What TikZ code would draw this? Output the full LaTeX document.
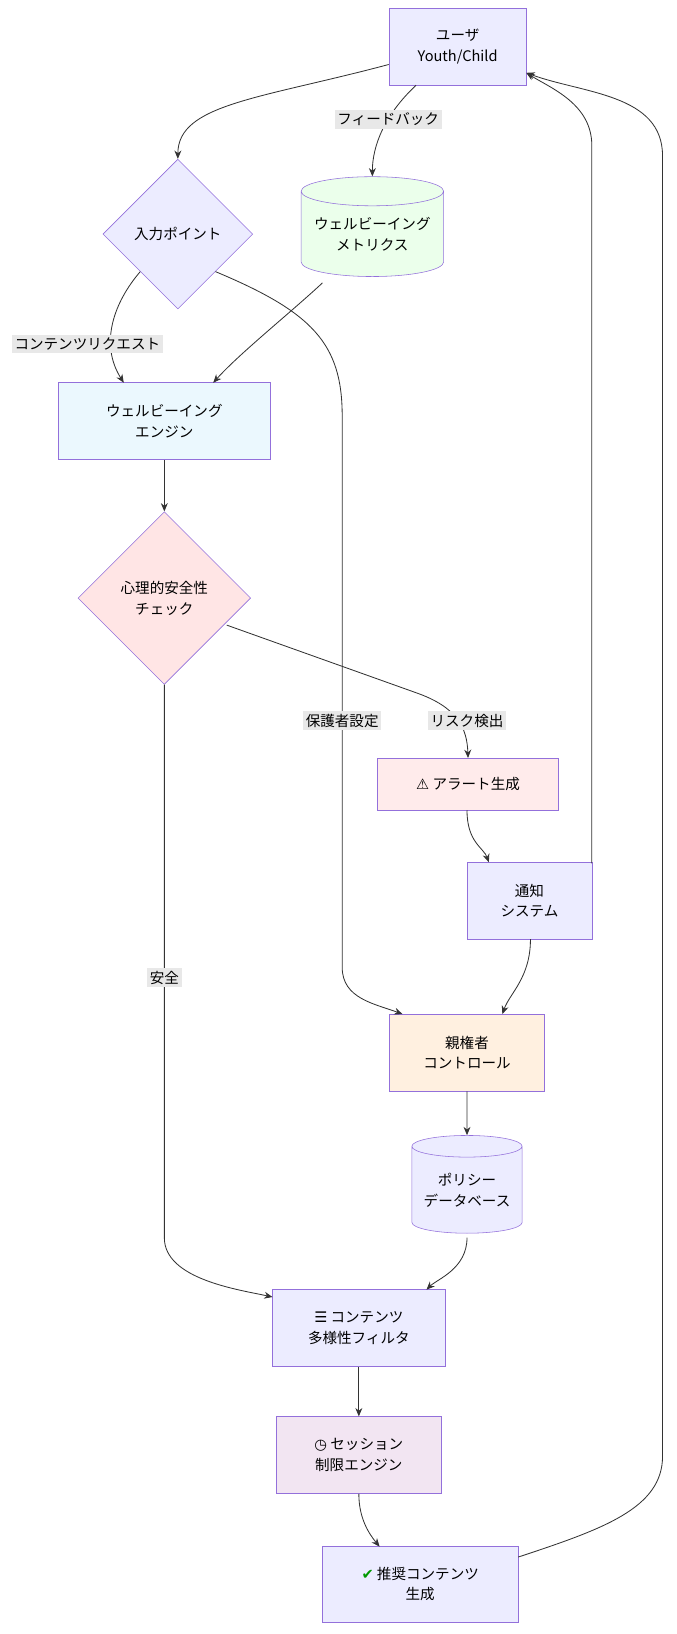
\documentclass[tikz,border=0pt]{standalone}
\usepackage{fontspec}
\setmainfont{Noto Sans CJK JP}
\newfontfamily\dv{DejaVu Sans}
\usetikzlibrary{shapes.geometric,arrows.meta}
\definecolor{st}{HTML}{9370DB}
\definecolor{fdef}{HTML}{ECECFF}
\begin{document}
\begin{tikzpicture}[x=0.75pt,y=-0.75pt,font=\fontsize{10.5}{15}\selectfont,
  box/.style 2 args={draw=st,fill=fdef,rectangle,minimum width=#1*0.75pt,minimum height=#2*0.75pt,align=center,inner sep=0pt},
  dia/.style={draw=st,fill=fdef,diamond,align=center,inner sep=0pt,minimum width=#1*0.75pt,minimum height=#1*0.75pt},
  cyl/.style 2 args={draw=st,fill=fdef,cylinder,shape border rotate=90,aspect=0.25,minimum width=#1*0.75pt,minimum height=#2*0.75pt,align=center,inner sep=0pt},
  e/.style={draw=black!80,line width=0.6pt,-{Stealth[length=6pt,width=5pt]}},
  lab/.style={fill=black!9,inner sep=2pt,font=\fontsize{10.5}{12}\selectfont}]
\useasboundingbox (0,0) rectangle (650,1571);
\node[box={132}{74}] (user) at (440,45) {ユーザ\\Youth/Child};
\node[dia=144] (inp) at (171,225) {入力ポイント};
\node[cyl={137}{96},fill=green!8] (met) at (358,225) {ウェルビーイング\\メトリクス};
\node[box={203}{74},fill=cyan!8] (wb) at (158,405) {ウェルビーイング\\エンジン};
\node[dia=166,fill=pink!40] (saf) at (158,575) {心理的安全性\\チェック};
\node[box={174}{50},fill=red!8] (alert) at (450,754) {{\dv ⚠} アラート生成};
\node[box={120}{74}] (noti) at (509,866) {通知\\システム};
\node[box={149}{74},fill=orange!12] (par) at (449,1012) {親権者\\コントロール};
\node[cyl={106}{94}] (pol) at (449,1144) {ポリシー\\データベース};
\node[box={166}{74}] (fil) at (345,1277) {{\dv ☰} コンテンツ\\多様性フィルタ};
\node[box={158}{74},fill=violet!10] (ses) at (345,1399) {{\dv ◷} セッション\\制限エンジン};
\node[box={188}{73}] (rec) at (404,1523) {{\dv\color{green!60!black}✔} 推奨コンテンツ\\生成};
\draw[e] (user.west|-0,62) .. controls (250,95) and (171,100) .. (inp.north);
\draw[e] (400,82) .. controls (370,110) and (358,140) .. (met.north) node[lab,pos=0.38] {フィードバック};
\draw[e] (inp.south west) .. controls (110,290) and (95,330) .. (119,368);
\node[lab] at (84,331) {コンテンツリクエスト};
\draw[e] (310,272) .. controls (280,300) and (230,340) .. (205,368);
\draw[e] (inp.south east) .. controls (300,300) and (329,330) .. (329,400) -- (329,930) .. controls (329,960) and (360,965) .. (387,975);
\node[lab] at (329,693) {保護者設定};
\draw[e] (wb) -- (saf);
\draw[e] (218,601) -- (400,666) .. controls (440,680) and (449,700) .. (alert.north);
\node[lab] at (449,693) {リスク検出};
\draw[e] (saf.south) -- (158,1190) .. controls (158,1230) and (230,1240) .. (262,1247);
\node[lab] at (158,940) {安全};
\draw[e] (449,779) .. controls (449,810) and (465,815) .. (470,829);
\draw[e] (569,830) .. controls (569,815) and (569,800) .. (569,780) -- (569,140) .. controls (569,100) and (530,85) .. (506,70);
\draw[e] (510,903) .. controls (510,940) and (490,955) .. (483,975);
\draw[e] (par) -- (pol);
\draw[e] (449,1190) .. controls (449,1220) and (420,1230) .. (410,1240);
\draw[e] (fil) -- (ses);
\draw[e] (ses.south) .. controls (345,1460) and (355,1475) .. (365,1487);
\draw[e] (rec.east|-0,1497) .. controls (580,1470) and (637,1450) .. (637,1400) -- (637,150) .. controls (637,90) and (560,90) .. (506,70);
\end{tikzpicture}
\end{document}
